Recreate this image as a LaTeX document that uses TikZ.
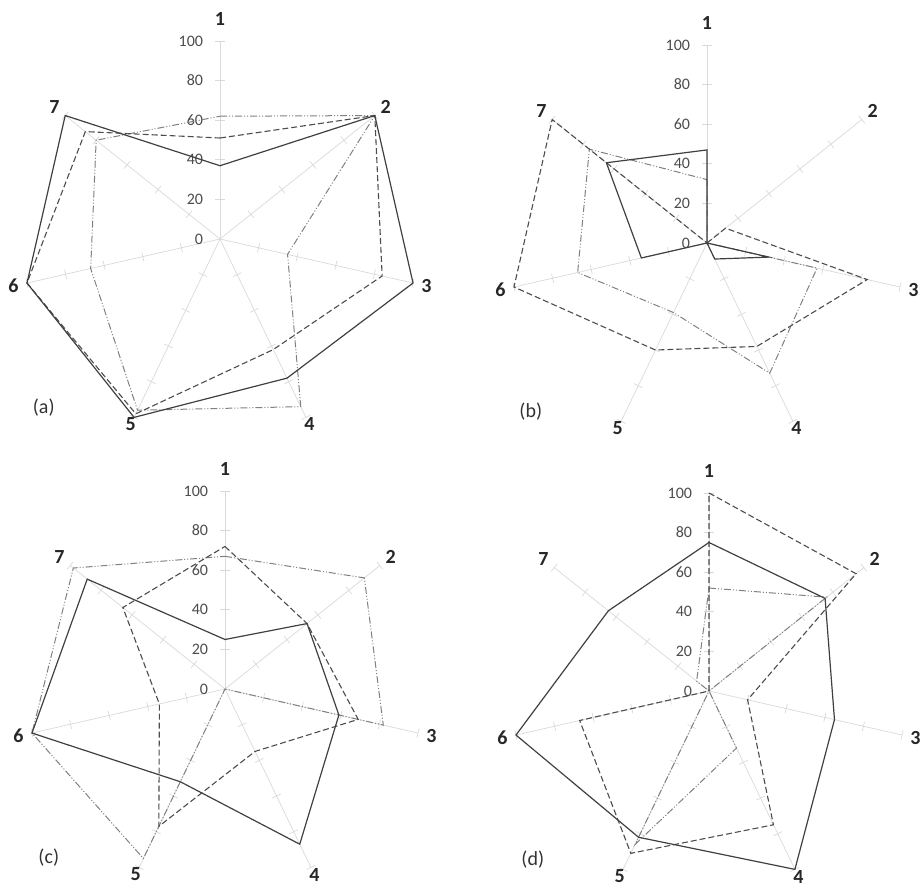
\documentclass[tikz,border=0pt]{standalone}
\usepackage{fontspec}
\setmainfont{Carlito}
\usepackage{tikz}
\usetikzlibrary{positioning}

\newcommand{\radarline}[3]{%
    \draw[#1] (90:#2) \foreach \v [count = \k] in {#3} { -- ({90 - \k*360/7}:\v) } -- cycle;}

\begin{document}
\begin{tikzpicture}[x = 1pt, y = 1pt,
    axisline/.style = {draw = black!15, line width = .7pt},
    solidline/.style = {draw = black!75, line width = 1.2pt},
    dashline/.style = {draw = black!70, line width = 1.1pt, dash pattern = on 6pt off 3pt},
    dotline/.style = {draw = black!50, line width = 1pt, dash pattern = on 7pt off 2pt on 1pt off 2pt on 1pt off 2pt},
    axisnum/.style = {font = \bfseries\fontsize{20}{20}\selectfont, text = black!85},
    ticknum/.style = {font = \fontsize{16}{16}\selectfont, text = black!70, anchor = east, inner sep = 0pt},
    panel/.style = {font = \fontsize{20}{20}\selectfont, text = black!80}]
    \useasboundingbox (0,0) rectangle (924,888);
    % empty grids
    \foreach \cx/\cy/\tag in {220/649/a, 707/645/b, 225/199/c, 709/197/d} {
      \begin{scope}[shift = {(\cx,\cy)}, x = 1.98pt, y = 1.98pt]
        \foreach \k in {1,...,7} {
          \pgfmathsetmacro{\ang}{90 - (\k-1)*360/7}
          \pgfmathsetmacro{\lr}{\k == 1 ? 111 : ((\k == 4 || \k == 5) ? 104 : 107)}
          \draw[axisline] (0,0) -- (\ang:100);
          \foreach \r in {20,40,...,100}
            \draw[axisline, rotate = \ang] (\r,-2.4) -- (\r,2.4);
          \node[axisnum] (ax\tag\k) at (\ang:\lr) {\k};
        }
        \foreach \v in {0,20,...,100}
          \node[ticknum] (tk\tag\v) at (-8.5,\v) {\v};
        \node[panel] (panel\tag) at (-89,-85) {(\tag)};
      \end{scope}
    }
    % (a)
    \begin{scope}[shift = {(220,649)}, x = 1.98pt, y = 1.98pt]
      \radarline{dotline}{62}{100,35,94,96,67,80}
      \radarline{dashline}{51}{100,84,62,98,100,87}
      \radarline{solidline}{37}{100,100,78,100,100,100}
    \end{scope}
    % (b)
    \begin{scope}[shift = {(707,645)}, x = 1.98pt, y = 1.98pt]
      \radarline{dotline}{32}{0,57,73,39,67,76}
      \radarline{dashline}{0}{12,83,58,60,100,100}
      \radarline{solidline}{47}{0,32,9,0,34,65}
    \end{scope}
    % (c)
    \begin{scope}[shift = {(225,199)}, x = 1.98pt, y = 1.98pt]
      \radarline{dotline}{67}{90,82,0,95,100,98}
      \radarline{dashline}{72}{53,69,35,77,34,66}
      \radarline{solidline}{25}{53,59,87,52,100,89}
    \end{scope}
    % (d)
    \begin{scope}[shift = {(709,197)}, x = 1.98pt, y = 1.98pt]
      \radarline{dotline}{52}{76,0,32,86,0,8}
      \radarline{dashline}{100}{95,20,75,91,67,0}
      \radarline{solidline}{75}{75,65,100,82,100,65}
    \end{scope}
\end{tikzpicture}
\end{document}
